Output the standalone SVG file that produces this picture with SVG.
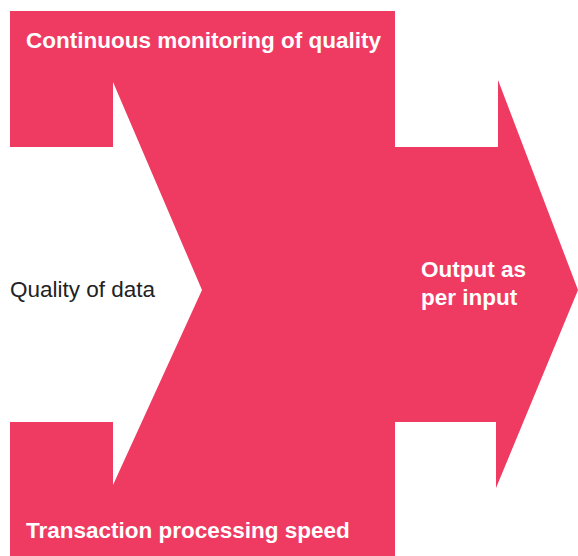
<svg xmlns="http://www.w3.org/2000/svg" width="578" height="556" viewBox="0 0 578 556">
<style>
.shape{fill:#EF3A62;}
.lbl{font-family:"Liberation Sans",Arial,sans-serif;font-weight:bold;font-size:22.5px;fill:#ffffff;}
.out{font-family:"Liberation Sans",Arial,sans-serif;font-size:22.5px;fill:#222222;}
</style>
<rect width="578" height="556" fill="#ffffff"/>
<g id="shape">
<path class="shape" d="M10,11 L395,11 L395,147 L498,147 L498,80 L578,290 L496,488 L496,422 L395,422 L395,556 L10,556 L10,422 L113,422 L113,485 L202,290 L113,82 L113,147 L10,147 Z"/>
</g>
<g id="node-monitoring"><text class="lbl" x="26" y="48">Continuous monitoring of quality</text></g>
<g id="node-speed"><text class="lbl" x="26" y="538">Transaction processing speed</text></g>
<g id="node-quality"><text class="out" x="10" y="297">Quality of data</text></g>
<g id="node-output"><text class="lbl" x="421" y="277">Output as</text><text class="lbl" x="421" y="305">per input</text></g>
</svg>
